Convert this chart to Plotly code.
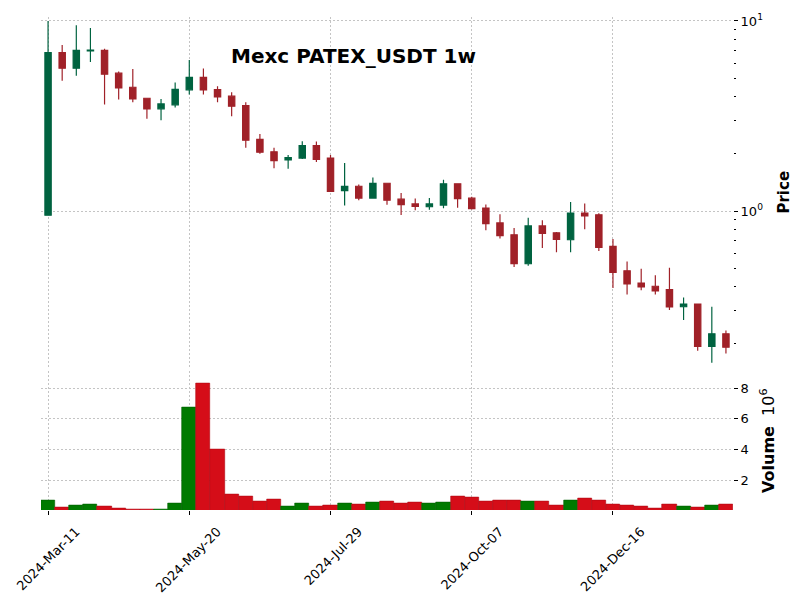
import plotly.graph_objects as go

# ---- data (weekly candles, PATEX/USDT) ----
opens = [0.95, 6.81, 5.64, 6.95, 7.00, 5.31, 4.48, 3.92, 3.45, 3.62,
         4.34, 5.05, 4.36, 4.02, 3.59, 2.38, 2.05, 1.86, 1.90, 2.21,
         1.90, 1.28, 1.35, 1.17, 1.40, 1.155, 1.09, 1.053, 1.075, 1.39,
         1.169, 1.037, 0.866, 0.75, 0.528, 0.835, 0.768, 0.706, 0.976, 0.956,
         0.652, 0.485, 0.418, 0.402, 0.386, 0.3135, 0.324, 0.194, 0.226]
highs = [10.0, 7.47, 9.50, 9.19, 7.15, 5.42, 5.58, 3.95, 3.89, 4.74,
         6.24, 5.62, 4.53, 4.22, 3.74, 2.54, 2.15, 1.97, 2.33, 2.32,
         1.97, 1.79, 1.38, 1.50, 1.41, 1.245, 1.165, 1.17, 1.46, 1.40,
         1.19, 1.083, 0.961, 0.813, 0.923, 0.895, 0.775, 1.114, 1.097, 0.973,
         0.712, 0.543, 0.497, 0.459, 0.503, 0.351, 0.325, 0.3135, 0.235]
lows = [0.95, 4.85, 5.15, 6.09, 3.64, 3.86, 3.74, 3.06, 3.00, 3.51,
        4.10, 4.10, 3.74, 3.15, 2.15, 2.00, 1.68, 1.67, 1.88, 1.81,
        1.26, 1.07, 1.14, 1.16, 1.08, 0.953, 1.01, 1.016, 1.033, 1.04,
        1.02, 0.793, 0.717, 0.507, 0.515, 0.639, 0.606, 0.606, 0.803, 0.617,
        0.394, 0.364, 0.383, 0.364, 0.301, 0.267, 0.184, 0.159, 0.178]
closes = [6.81, 5.64, 7.00, 7.02, 5.25, 4.44, 3.89, 3.45, 3.66, 4.37,
          5.05, 4.34, 3.99, 3.56, 2.36, 2.04, 1.84, 1.91, 2.21, 1.87,
          1.27, 1.35, 1.17, 1.40, 1.14, 1.08, 1.058, 1.09, 1.39, 1.16,
          1.028, 0.859, 0.741, 0.528, 0.835, 0.762, 0.709, 0.976, 0.942, 0.644,
          0.475, 0.413, 0.399, 0.380, 0.313, 0.324, 0.194, 0.226, 0.192]
volumes_m = [0.74, 0.29, 0.42, 0.48, 0.36, 0.23, 0.16, 0.16, 0.15, 0.55,
             6.77, 8.27, 4.01, 1.13, 0.99, 0.68, 0.80, 0.36, 0.55, 0.36,
             0.42, 0.55, 0.48, 0.61, 0.68, 0.55, 0.61, 0.55, 0.61, 1.00,
             0.93, 0.68, 0.74, 0.74, 0.68, 0.68, 0.42, 0.74, 0.87, 0.74,
             0.48, 0.42, 0.36, 0.23, 0.48, 0.36, 0.29, 0.42, 0.48]
tick_index = [0, 10, 20, 30, 40]
tick_labels = ["2024-Mar-11", "2024-May-20", "2024-Jul-29", "2024-Oct-07", "2024-Dec-16"]
title_text = "Mexc PATEX_USDT 1w"

idx = list(range(len(opens)))
volumes = [v * 1e6 for v in volumes_m]

UP, DOWN = "#006340", "#a02128"
VUP, VDOWN = "#007a00", "#d50d18"
vol_colors = [VUP if c >= o else VDOWN for o, c in zip(opens, closes)]
vol_edges = ["#006000" if c >= o else "#b00a14" for o, c in zip(opens, closes)]

fig = go.Figure()
fig.add_trace(go.Candlestick(
    x=idx, open=opens, high=highs, low=lows, close=closes,
    increasing=dict(fillcolor=UP, line=dict(color=UP, width=1.2)),
    decreasing=dict(fillcolor=DOWN, line=dict(color=DOWN, width=1.2)),
    whiskerwidth=0, xaxis="x", yaxis="y", showlegend=False,
))
fig.add_trace(go.Bar(
    x=idx, y=volumes, marker=dict(color=vol_colors, line=dict(color=vol_edges, width=0.6)),
    xaxis="x2", yaxis="y2", showlegend=False, width=1.0,
))

grid = dict(showgrid=True, gridcolor="#c4c4c4", gridwidth=0.8, griddash="2px,2px")
font = dict(family="DejaVu Sans", size=13, color="black")

minor_vals = [0.2, 0.3, 0.4, 0.5, 0.6, 0.7, 0.8, 0.9, 2, 3, 4, 5, 6, 7, 8, 9]

fig.update_layout(
    width=802, height=607,
    margin=dict(l=41, r=69, t=14, b=95),
    paper_bgcolor="white", plot_bgcolor="white",
    font=font, boxgap=0.36, bargap=0,
    xaxis=dict(domain=[0, 1], range=[-0.5, len(idx) - 0.5], anchor="y",
               tickvals=tick_index, ticktext=[""] * len(tick_index), ticks="",
               showticklabels=False, rangeslider=dict(visible=False),
               matches="x2", zeroline=False, showline=False, **grid),
    yaxis=dict(domain=[0.2892, 1], type="log", range=[-0.82292, 1.02083],
               side="right", anchor="x", tickvals=[1, 10],
               ticktext=["10<sup>0</sup>", "10<sup>1</sup>"],
               ticks="outside", ticklen=4, tickcolor="black", tickwidth=1,
               minor=dict(tickvals=minor_vals, ticks="outside", ticklen=2,
                          tickcolor="black", tickwidth=1, showgrid=False),
               title=dict(text="<b>Price</b>", font=dict(family="DejaVu Sans", size=15), standoff=16),
               zeroline=False, showline=False, **grid),
    xaxis2=dict(domain=[0, 1], range=[-0.5, len(idx) - 0.5], anchor="y2",
                tickvals=tick_index, ticktext=tick_labels, tickangle=-45,
                ticks="outside", ticklen=4, tickcolor="black",
                ticklabelshift=28, ticklabelstandoff=4, ticklabeloverflow="allow",
                zeroline=False, showline=False, **grid),
    yaxis2=dict(domain=[0, 0.2811], range=[0.1e6, 9.074e6], side="right", anchor="x2",
                tickvals=[2e6, 4e6, 6e6, 8e6], ticktext=["2", "4", "6", "8"],
                ticks="outside", ticklen=4, tickcolor="black",
                title=dict(text="<b>Volume</b>  10<sup>6</sup>",
                           font=dict(family="DejaVu Sans", size=16), standoff=14),
                zeroline=False, showline=False, **grid),
    annotations=[dict(text="<b>" + title_text + "</b>", x=0.4523, y=0.9217,
                      xref="paper", yref="paper", xanchor="center", yanchor="middle",
                      showarrow=False,
                      font=dict(family="DejaVu Sans", size=20, color="black"))],
)

fig.write_html("out.html")
